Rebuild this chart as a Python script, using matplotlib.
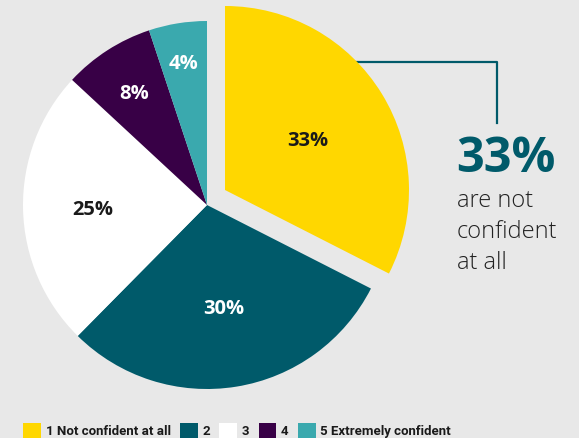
import numpy as np
import matplotlib.pyplot as plt
from matplotlib.patches import Patch

labels = ["1 Not confident at all", "2", "3", "4", "5 Extremely confident"]
shares = [33, 30, 25, 8, 4]                 # printed percentages
sizes = [32.5, 29.9, 24.5, 8.0, 5.1]        # wedge sizes as drawn
colors = ["#FFD700", "#005A6A", "#FFFFFF", "#380046", "#3AA9AE"]
text_colors = ["#1a1a1a", "#FFFFFF", "#1a1a1a", "#FFFFFF", "#FFFFFF"]
label_r = [0.53, 0.56, 0.62, 0.73, 0.79]
pull_out = (18, 15)  # px offset of the first wedge

BG = "#E8E8E8"
W, H = 579, 438
CX, CY, R = 207, 205, 184  # pie centre / radius in pixels


def px(x, y):
    return (x - CX) / R, (CY - y) / R


fig = plt.figure(figsize=(W / 100, H / 100), dpi=100, facecolor=BG)
ax = fig.add_axes([0, 0, 1, 1])
ax.set_facecolor(BG)

wedges, _ = ax.pie(sizes, colors=colors, startangle=90,
                   counterclock=False, radius=1,
                   wedgeprops=dict(linewidth=0, zorder=2))
wedges[0].set_center((pull_out[0] / R, pull_out[1] / R))

for w, val, tc, r in zip(wedges, shares, text_colors, label_r):
    ang = np.deg2rad((w.theta1 + w.theta2) / 2)
    cx, cy = w.center
    ax.text(cx + r * np.cos(ang), cy + r * np.sin(ang) - 0.012, f"{val}%",
            ha="center", va="center", fontsize=14.5, fontweight="bold",
            color=tc, family="Open Sans", zorder=3)

# callout line
x0, y0 = px(330, 62)
x1, y1 = px(497, 62)
x2, y2 = px(497, 123)
ax.plot([x0, x1, x2], [y0, y1, y2], color="#005A6A", lw=1.6, zorder=1)

tx, ty = px(456, 172)
ax.text(tx, ty, f"{shares[0]}%", ha="left", va="baseline", fontsize=35,
        fontweight="bold", color="#005A6A", family="Open Sans")
for i, line in enumerate(["are not", "confident", "at all"]):
    lx, ly = px(457, 207 + 31 * i)
    ax.text(lx, ly, line, ha="left", va="baseline", fontsize=17,
            color="#222222", family="Open Sans", fontweight="light")

ax.set_xlim(-CX / R, (W - CX) / R)
ax.set_ylim(-(H - CY) / R, CY / R)
ax.set_aspect("auto")
ax.axis("off")

handles = [Patch(facecolor=c, edgecolor="none") for c in colors]
leg = fig.legend(handles, labels, loc="lower left", bbox_to_anchor=(23 / W, 0),
                 ncol=5, frameon=False, handlelength=1.36, handleheight=1.36,
                 handletextpad=0.35, columnspacing=0.7, borderaxespad=0,
                 borderpad=0.0,
                 prop=dict(family="Roboto", weight="bold", size=9.5))
for t in leg.get_texts():
    t.set_color("#1a1a1a")

fig.savefig("out.png", dpi=100, facecolor=BG)
